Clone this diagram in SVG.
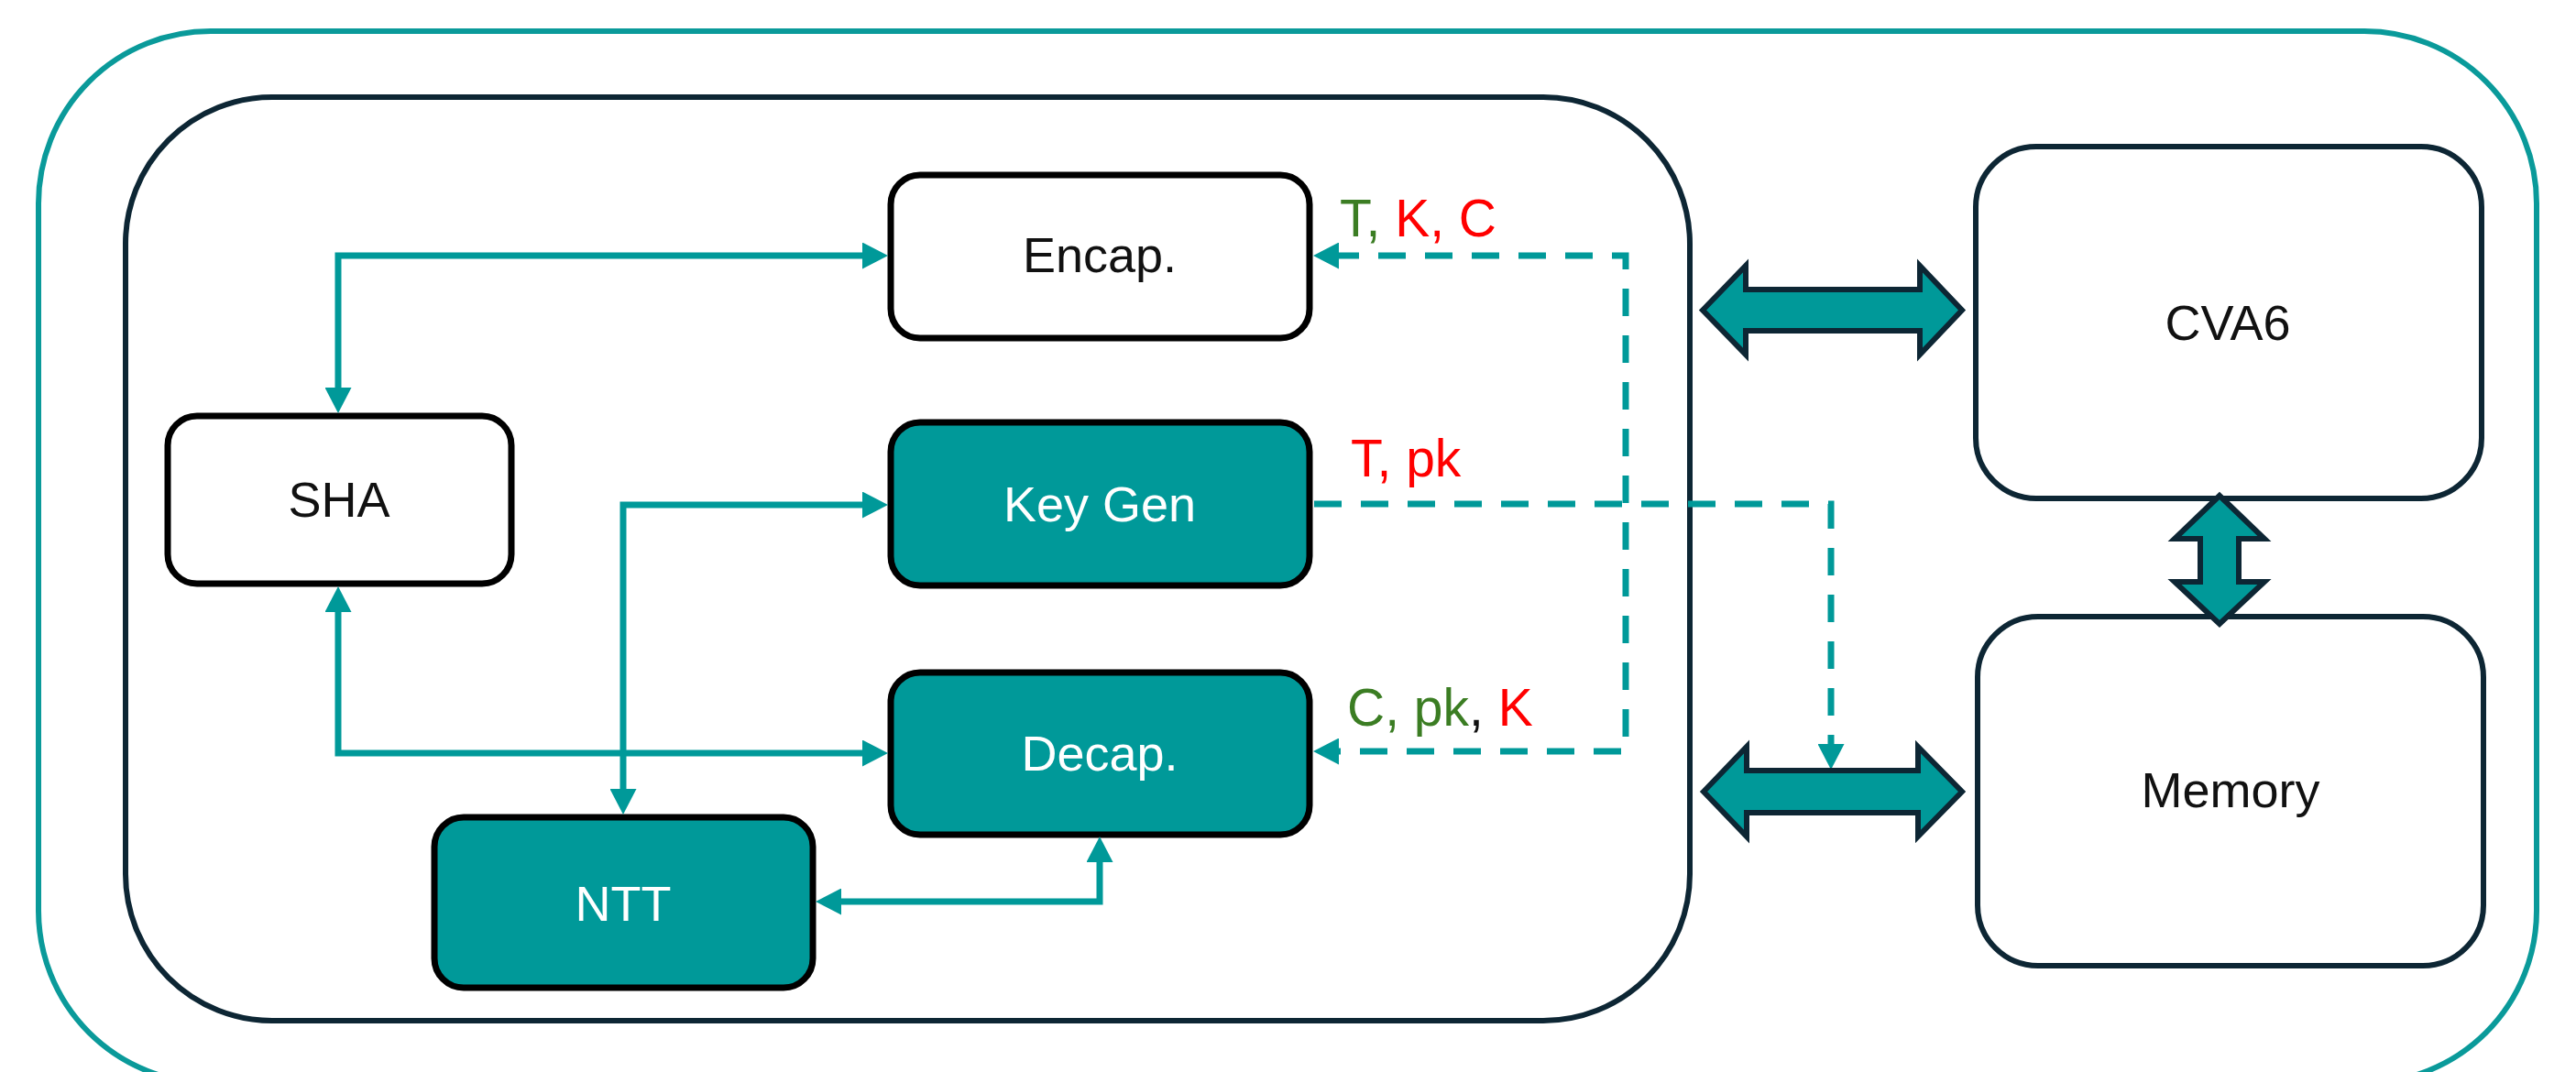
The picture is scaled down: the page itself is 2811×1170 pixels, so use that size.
<svg xmlns="http://www.w3.org/2000/svg" width="2811" height="1170" viewBox="0 0 2811 1170">
  <style>
    .frame-outer { fill: none; stroke: #0a9a9a; stroke-width: 6; }
    .frame-inner { fill: none; stroke: #0d2634; stroke-width: 6; }
    .blk { stroke: #000; stroke-width: 7; }
    .blk-w { fill: #fff; }
    .blk-t { fill: #009999; }
    .sys { fill: #fff; stroke: #0d2634; stroke-width: 6; }
    .lbl { font-family: "Liberation Sans", Arial, sans-serif; font-size: 54px; text-anchor: middle; }
    .dark { fill: #111; }
    .light { fill: #fff; }
    .wire { fill: none; stroke: #009999; stroke-width: 7; stroke-linejoin: miter; }
    .dash { fill: none; stroke: #009999; stroke-width: 7; stroke-dasharray: 30 21; }
    .bus { fill: #009999; stroke: #0d2634; stroke-width: 6; stroke-linejoin: miter; }
    .sig { font-family: "Liberation Sans", Arial, sans-serif; font-size: 57px; }
    .g { fill: #3b7d23; }
    .r { fill: #ff0000; }
    .k { fill: #111; }
  </style>
  <defs>
    <marker id="tip" viewBox="0 0 28 29" refX="8" refY="14.5" markerWidth="28" markerHeight="29" markerUnits="userSpaceOnUse" orient="auto-start-reverse">
      <path d="M0,0 L28,14.5 L0,29 z" fill="#009999"/>
    </marker>
  </defs>

  <rect width="2811" height="1170" fill="#fff"/>

  <!-- enclosures -->
  <rect id="soc" class="frame-outer" x="42" y="34" width="2726" height="1148" rx="188" ry="188"/>
  <rect id="accelerator" class="frame-inner" x="137" y="106" width="1707" height="1008" rx="160" ry="160"/>

  <!-- accelerator blocks -->
  <g id="encap">
    <rect class="blk blk-w" x="972" y="191" width="457" height="178" rx="32"/>
    <text class="lbl dark" x="1200" y="297">Encap.</text>
  </g>
  <g id="keygen">
    <rect class="blk blk-t" x="972" y="461" width="457" height="178" rx="32"/>
    <text class="lbl light" x="1200" y="569">Key Gen</text>
  </g>
  <g id="decap">
    <rect class="blk blk-t" x="972" y="734" width="457" height="177" rx="32"/>
    <text class="lbl light" x="1200" y="841">Decap.</text>
  </g>
  <g id="sha">
    <rect class="blk blk-w" x="183" y="454" width="375" height="183" rx="32"/>
    <text class="lbl dark" x="370" y="564">SHA</text>
  </g>
  <g id="ntt">
    <rect class="blk blk-t" x="474" y="892" width="413" height="186" rx="32"/>
    <text class="lbl light" x="680" y="1005">NTT</text>
  </g>

  <!-- system blocks -->
  <g id="cva6">
    <rect class="sys" x="2156" y="160" width="552" height="384" rx="66"/>
    <text class="lbl dark" x="2431" y="371">CVA6</text>
  </g>
  <g id="memory">
    <rect class="sys" x="2158" y="673" width="552" height="381" rx="66"/>
    <text class="lbl dark" x="2434" y="881">Memory</text>
  </g>

  <!-- connectors -->
  <g id="connectors">
    <path class="wire" d="M369,431 V279 H949" marker-start="url(#tip)" marker-end="url(#tip)"/>
    <path class="wire" d="M369,660 V822 H949" marker-start="url(#tip)" marker-end="url(#tip)"/>
    <path class="wire" d="M949,551 H680 V869" marker-start="url(#tip)" marker-end="url(#tip)"/>
    <path class="wire" d="M1200,933 V984 H910" marker-start="url(#tip)" marker-end="url(#tip)"/>

    <path class="dash" d="M1453,279 H1774 V820 H1453" marker-start="url(#tip)" marker-end="url(#tip)"/>
    <path class="dash" d="M1434,550 H1998 V820" marker-end="url(#tip)"/>

    <!-- wide bus arrows -->
    <polygon class="bus" points="1858,338.5 1905,290 1905,316 2095,316 2095,290 2141,338.5 2095,387 2095,361 1905,361 1905,387"/>
    <polygon class="bus" points="1859,864 1906,815 1906,841 2093,841 2093,815 2141,864 2093,913 2093,887 1906,887 1906,913"/>
    <polygon class="bus" points="2422,541 2471,588 2443,588 2443,635 2471,635 2422,681 2373,635 2401,635 2401,588 2373,588"/>
  </g>

  <!-- signal labels -->
  <text class="sig" x="1462" y="258"><tspan class="g">T,</tspan><tspan class="r"> K, C</tspan></text>
  <text class="sig" x="1474" y="520"><tspan class="r">T, pk</tspan></text>
  <text class="sig" x="1470" y="792"><tspan class="g">C, pk</tspan><tspan class="k">,</tspan><tspan class="r"> K</tspan></text>
</svg>
